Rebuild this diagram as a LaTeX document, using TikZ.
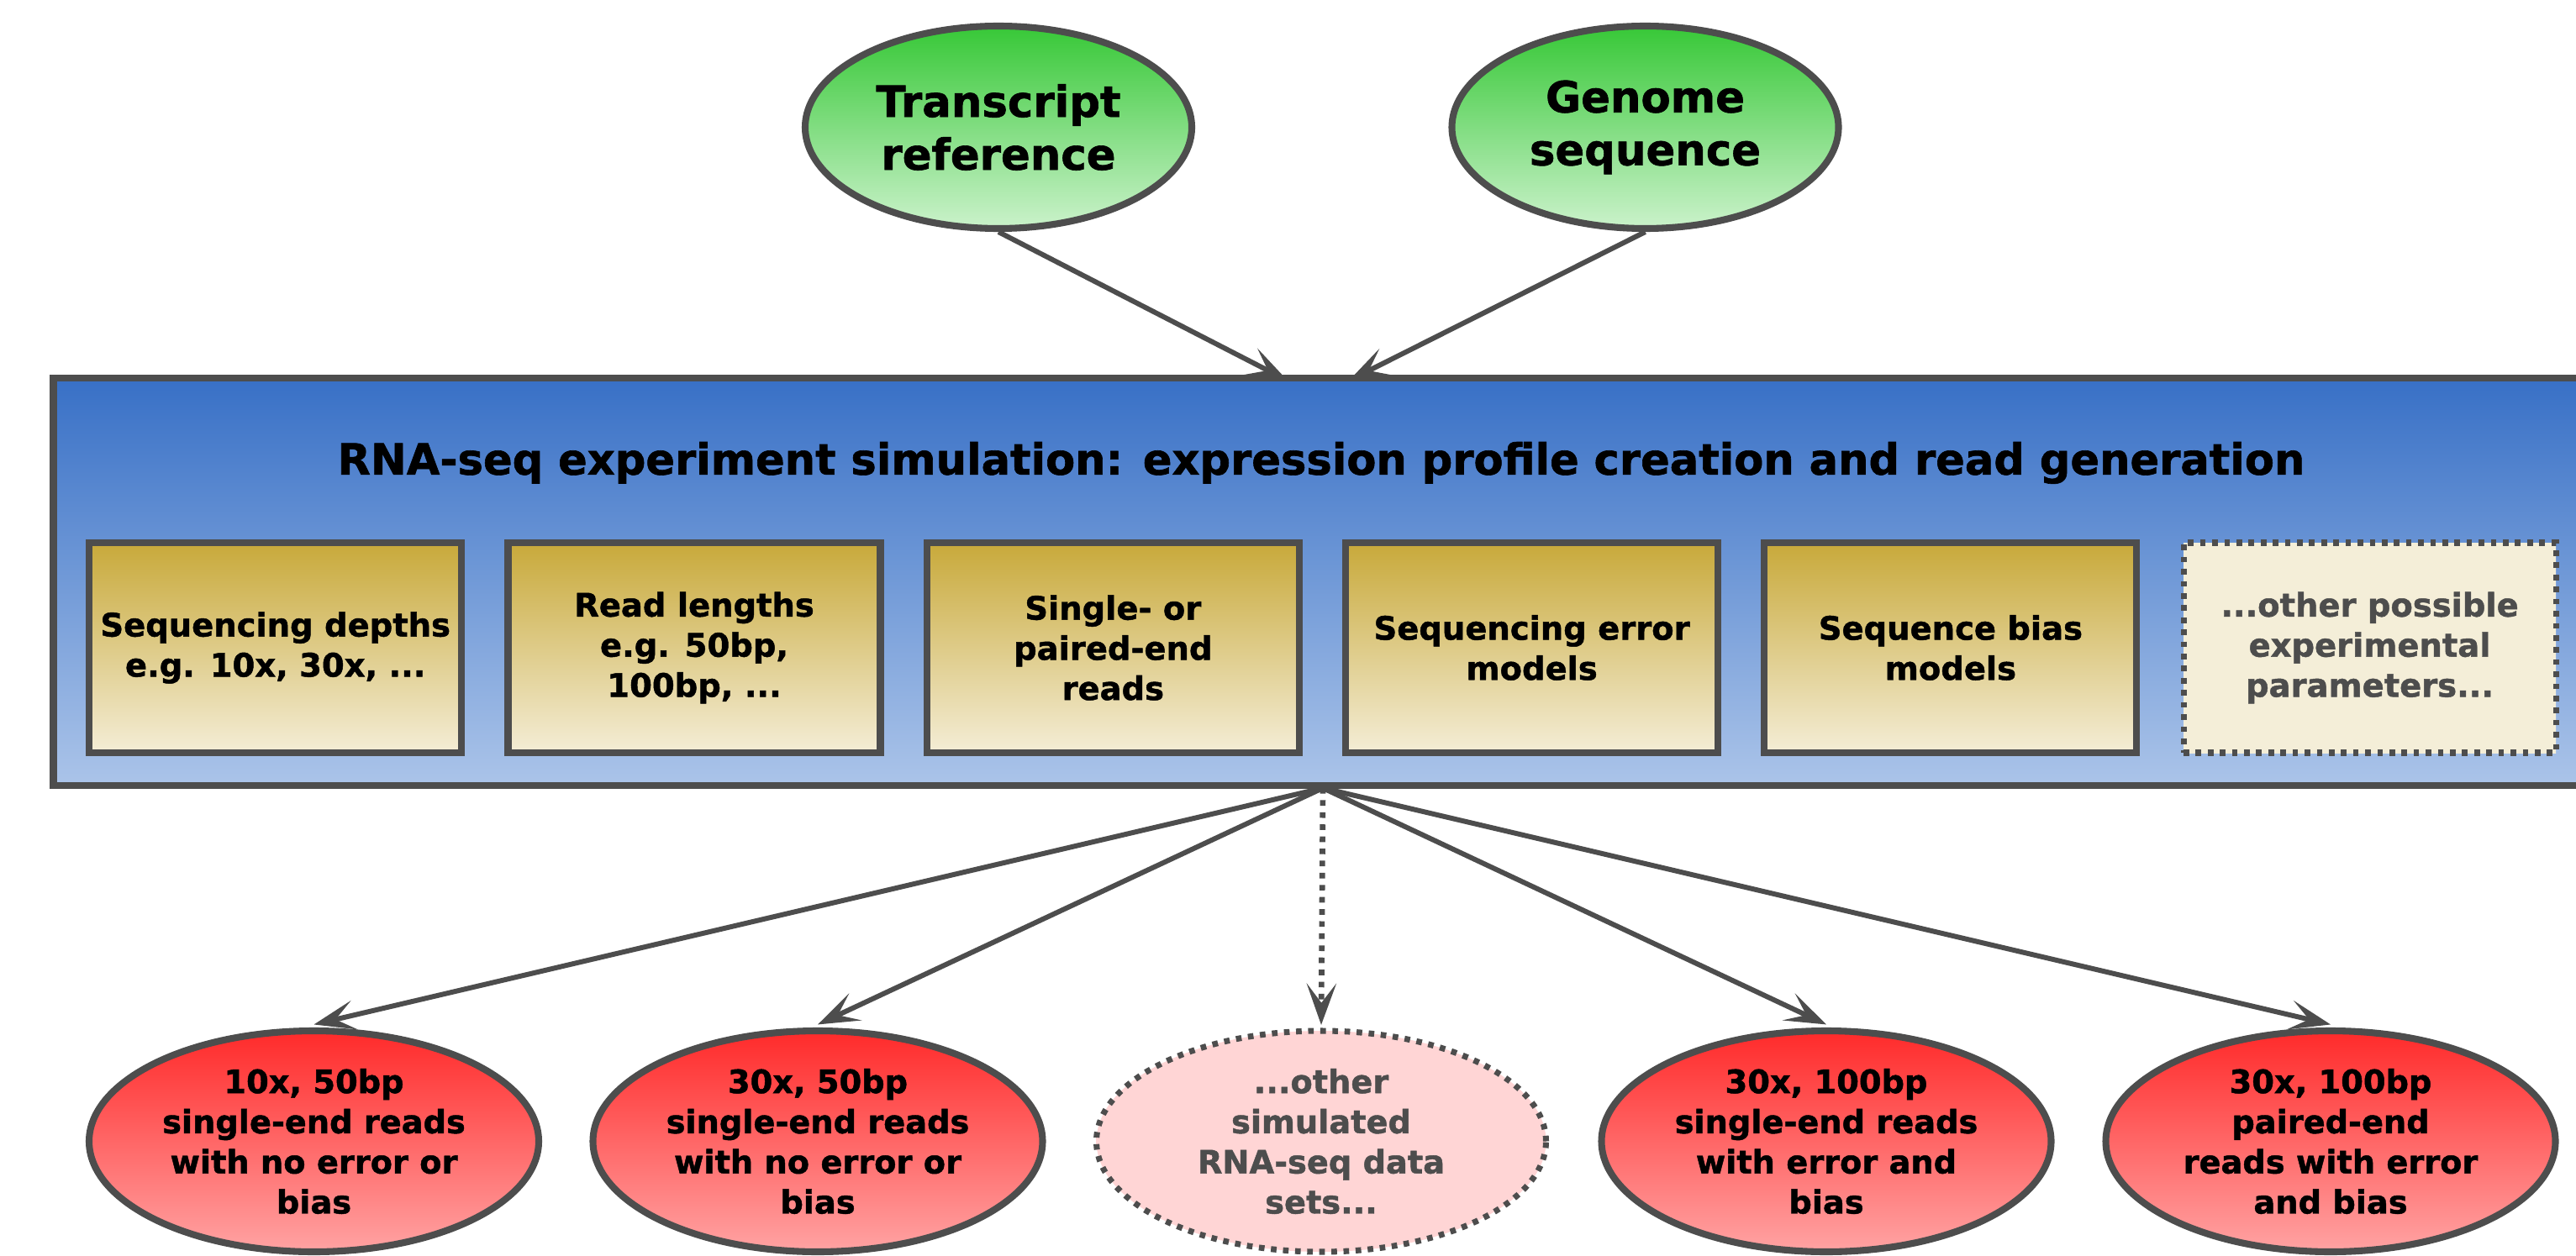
\documentclass[tikz,border=0pt]{standalone}
\usepackage{fontspec}
\usetikzlibrary{shapes.geometric,arrows.meta}
\newfontfamily\dvb{DejaVu Sans}[BoldFeatures={FakeBold=1.2}]
\definecolor{edge}{HTML}{4D4D4D}
\definecolor{gtop}{HTML}{37C837}
\definecolor{gbot}{HTML}{CBF2CB}
\definecolor{btop}{HTML}{3870C6}
\definecolor{bbot}{HTML}{ABC4E9}
\definecolor{ytop}{HTML}{C8A93A}
\definecolor{ybot}{HTML}{F4EDD6}
\definecolor{rtop}{HTML}{FF2A2A}
\definecolor{rbot}{HTML}{FFA3A3}
\definecolor{rpale}{HTML}{FFD5D5}
\definecolor{ypale}{HTML}{F4EED8}
\begin{document}
\begin{tikzpicture}[
  conn/.style={draw=edge, line width=1.7pt, -{Stealth[length=14pt,width=10pt,inset=6.5pt]}},
  dconn/.style={conn, line width=1.9pt, dash pattern=on 1.9pt off 2.2pt},
  srcnode/.style={ellipse, draw=edge, line width=2.3pt, top color=gtop, bottom color=gbot,
    minimum width=4.6cm, minimum height=2.41cm, inner sep=0pt, align=center,
    font=\dvb\bfseries\fontsize{14.6}{17.9}\selectfont},
  simbox/.style={rectangle, draw=edge, line width=2.5pt, top color=btop, bottom color=bbot,
    minimum width=30.64cm, minimum height=4.85cm, inner sep=0pt},
  titletext/.style={inner sep=0pt, font=\dvb\bfseries\fontsize{14.55}{18}\selectfont},
  parbox/.style={rectangle, draw=edge, line width=2.3pt, top color=ytop, bottom color=ybot,
    minimum width=4.43cm, minimum height=2.5cm, inner sep=0pt, align=center,
    font=\dvb\bfseries\fontsize{10.95}{13.6}\selectfont},
  parmore/.style={parbox, top color=ypale, bottom color=ypale, line width=2pt,
    dash pattern=on 1.9pt off 2.2pt, text=edge},
  setnode/.style={ellipse, draw=edge, line width=2.3pt, top color=rtop, bottom color=rbot,
    minimum width=5.35cm, minimum height=2.63cm, inner sep=0pt, align=center,
    font=\dvb\bfseries\fontsize{10.9}{13.6}\selectfont},
  setmore/.style={setnode, top color=rpale, bottom color=rpale, line width=2pt,
    dash pattern=on 1.9pt off 2.2pt, text=edge}
]
\useasboundingbox (0,0) rectangle (30.65,14.94);
\clip (0,0) rectangle (30.65,14.94);

% sources
\node[srcnode] (tr) at (11.88,13.425) {Transcript\\reference};
\node[srcnode] (gn) at (19.575,13.425) {Genome\\sequence};

% simulation box
\node[simbox] (sim) at (15.955,8.015) {};
\node[titletext] (title) at (15.72,9.43) {RNA-seq experiment simulation: expression profile creation and read generation};

\node[parbox] (p1) at (3.277,7.23) {Sequencing depths\\e.g. 10x, 30x, ...};
\node[parbox] (p2) at (8.26,7.23) {Read lengths\\e.g. 50bp,\\100bp, ...};
\node[parbox] (p3) at (13.243,7.23) {Single- or\\paired-end\\reads};
\node[parbox] (p4) at (18.226,7.23) {Sequencing error\\models};
\node[parbox] (p5) at (23.209,7.23) {Sequence bias\\models};
\node[parmore] (p6) at (28.195,7.23) {...other possible\\experimental\\parameters...};

% outputs
\node[setnode] (e1) at (3.735,1.355) {10x, 50bp\\single-end reads\\with no error or\\bias};
\node[setnode] (e2) at (9.73,1.355) {30x, 50bp\\single-end reads\\with no error or\\bias};
\node[setmore] (e3) at (15.72,1.355) {...other\\simulated\\RNA-seq data\\sets...};
\node[setnode] (e4) at (21.73,1.355) {30x, 100bp\\single-end reads\\with error and\\bias};
\node[setnode] (e5) at (27.73,1.355) {30x, 100bp\\paired-end\\reads with error\\and bias};

% connectors
\coordinate (in1) at (15.32,10.41);
\coordinate (in2) at (16.05,10.41);
\coordinate (out) at (15.74,5.56);
\draw[conn] (tr.south) -- (in1);
\draw[conn] (gn.south) -- (in2);
\draw[conn] (out) -- ([yshift=1pt]e1.north);
\draw[conn] (out) -- ([yshift=1pt]e2.north);
\draw[dconn] (out) -- ([yshift=1pt]e3.north);
\draw[conn] (out) -- ([yshift=1pt]e4.north);
\draw[conn] (out) -- ([yshift=1pt]e5.north);
\end{tikzpicture}
\end{document}
